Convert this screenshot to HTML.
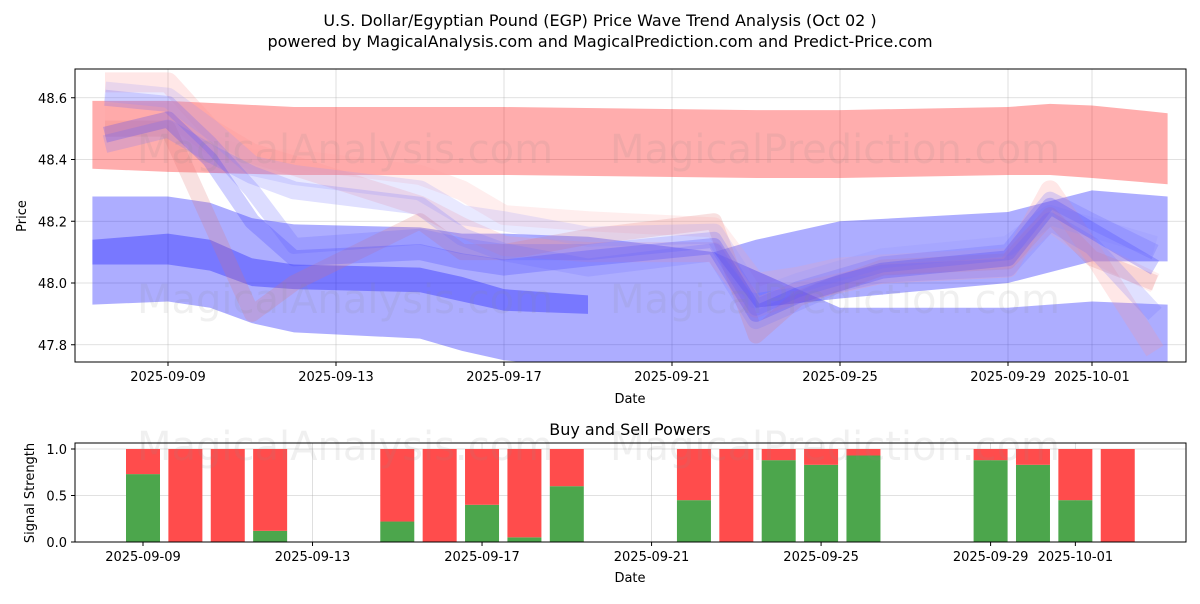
<!DOCTYPE html>
<html><head><meta charset="utf-8"><style>
body{margin:0;background:#fff;font-family:"DejaVu Sans","Liberation Sans",sans-serif}
svg text{font-family:"DejaVu Sans","Liberation Sans",sans-serif}
</style></head><body>
<svg id="chart" width="1200" height="600" xmlns="http://www.w3.org/2000/svg">
<defs>
<clipPath id="clipTop"><rect x="75" y="69" width="1111" height="293"/></clipPath>
</defs>
<rect width="1200" height="600" fill="#fff"/>
<text x="600" y="26" text-anchor="middle" font-size="16">U.S. Dollar/Egyptian Pound (EGP) Price Wave Trend Analysis (Oct 02 )</text>
<text x="600" y="47" text-anchor="middle" font-size="16">powered by MagicalAnalysis.com and MagicalPrediction.com and Predict-Price.com</text>
<g id="topGrid"></g>
<g id="topMarks" clip-path="url(#clipTop)"></g>
<g id="botGrid"></g>
<g id="botMarks"></g>
<g id="wm" fill="#888" fill-opacity="0.13" font-size="40">
<text x="345" y="163" text-anchor="middle">MagicalAnalysis.com</text>
<text x="835" y="163" text-anchor="middle">MagicalPrediction.com</text>
<text x="345" y="313" text-anchor="middle">MagicalAnalysis.com</text>
<text x="835" y="313" text-anchor="middle">MagicalPrediction.com</text>
<text x="345" y="460" text-anchor="middle">MagicalAnalysis.com</text>
<text x="835" y="460" text-anchor="middle">MagicalPrediction.com</text>
</g>
<rect x="75" y="69" width="1111" height="293" fill="none" stroke="#000" stroke-width="1"/>
<text x="630" y="403" text-anchor="middle" font-size="13">Date</text>
<text transform="translate(26,216) rotate(-90)" text-anchor="middle" font-size="13">Price</text>
<text x="630" y="435" text-anchor="middle" font-size="16">Buy and Sell Powers</text>
<rect x="75" y="443" width="1111" height="99" fill="none" stroke="#000" stroke-width="1"/>
<text x="630" y="582" text-anchor="middle" font-size="13">Date</text>
<text transform="translate(34,493) rotate(-90)" text-anchor="middle" font-size="13">Signal Strength</text>
</svg>
<script>
// days relative to 2025-09-09
const tickDays = [0,4,8,12,16,20,22];
const tickLabels = ["2025-09-09","2025-09-13","2025-09-17","2025-09-21","2025-09-25","2025-09-29","2025-10-01"];
const priceTicks = [47.8,48.0,48.2,48.4,48.6];
const signalTicks = [0,0.5,1.0];
const lineDays = [-1.5,0,1,2,3,6,7,8,10,13,14,15,16,17,20,21,22,23.5];
const blue1 = [48.48,48.53,48.4,48.2,48.08,48.1,48.07,48.05,48.08,48.12,47.9,47.96,48.0,48.04,48.08,48.25,48.17,48.05];
const blue2 = [48.6,48.58,48.45,48.3,48.12,48.15,48.12,48.1,48.1,48.14,47.92,47.98,48.02,48.06,48.1,48.27,48.2,48.1];
const blue3 = [48.45,48.5,48.42,48.35,48.3,48.25,48.15,48.1,48.05,48.1,47.88,47.94,48.0,48.03,48.05,48.2,48.12,47.9];
const blue4 = [48.62,48.6,48.5,48.38,48.35,48.3,48.22,48.2,48.15,48.16,47.95,48.0,48.04,48.08,48.12,48.22,48.18,48.12];
const red1 = [48.65,48.65,48.5,48.42,48.38,48.25,48.18,48.12,48.1,48.1,47.92,47.97,48.0,48.03,48.05,48.3,48.1,47.78];
const red2 = [48.5,48.5,48.2,47.9,48.0,48.2,48.1,48.1,48.15,48.2,47.83,47.95,48.0,48.05,48.07,48.22,48.08,48.0];
const red3 = [48.55,48.55,48.45,48.4,48.4,48.35,48.3,48.22,48.2,48.18,48.0,48.02,48.05,48.06,48.08,48.2,48.1,48.0];
const redBandDays = [-1.8,0,3,8,14,16,20,21,22,23.8];
const redBandTop = [48.59,48.59,48.57,48.57,48.56,48.56,48.57,48.58,48.575,48.55];
const redBandBot = [48.37,48.36,48.35,48.35,48.34,48.34,48.35,48.35,48.34,48.32];
const blueADays = [-1.8,0,1,2,3,6,7,8,10,13,16,20,22,23.8];
const blueATop = [48.28,48.28,48.26,48.21,48.19,48.18,48.16,48.16,48.15,48.1,47.92,47.92,47.94,47.93];
const blueABot = [47.93,47.94,47.92,47.87,47.84,47.82,47.78,47.75,47.72,47.65,47.6,47.6,47.6,47.6];
const blueBDays = [-1.8,0,1,2,3,6,7,8,10];
const blueBTop = [48.14,48.16,48.14,48.08,48.06,48.05,48.02,47.98,47.96];
const blueBBot = [48.06,48.06,48.04,47.99,47.98,47.97,47.94,47.91,47.9];
const blueDDays = [13,14,16,20,22,23.8];
const blueDTop = [48.1,48.14,48.2,48.23,48.3,48.28];
const blueDBot = [48.1,47.92,47.95,48.0,48.07,48.07];
const barDays = [0,1,2,3,6,7,8,9,10,13,14,15,16,17,20,21,22,23];
const buyVals = [0.73,0,0,0.12,0.22,0,0.4,0.05,0.6,0.45,0,0.88,0.83,0.93,0.88,0.83,0.45,0];

const NS="http://www.w3.org/2000/svg";
const X=d=>168+d*42;
const XB=d=>143+d*42.38;
const Y=v=>283-(v-48)*308.75;
const YB=v=>542-v*93;
function mk(tag,attrs,parent){const e=document.createElementNS(NS,tag);for(const k in attrs)e.setAttribute(k,attrs[k]);parent.appendChild(e);return e;}
const tg=document.getElementById('topGrid'),tm=document.getElementById('topMarks'),bg=document.getElementById('botGrid'),bm=document.getElementById('botMarks');
tickDays.forEach((d,i)=>{
 let l=mk('line',{x1:X(d),x2:X(d),y1:69,y2:362,stroke:'#b0b0b0','stroke-opacity':0.5,'stroke-width':0.8},tg);
 
 mk('line',{x1:X(d),x2:X(d),y1:362,y2:366,stroke:'#000'},tg);
 let t=mk('text',{x:X(d),y:381,'text-anchor':'middle','font-size':13},tg);t.textContent=tickLabels[i];
 
 let l2=mk('line',{x1:XB(d),x2:XB(d),y1:443,y2:542,stroke:'#b0b0b0','stroke-opacity':0.5,'stroke-width':0.8},bg);
 
 mk('line',{x1:XB(d),x2:XB(d),y1:542,y2:546,stroke:'#000'},bg);
 let t2=mk('text',{x:XB(d),y:561,'text-anchor':'middle','font-size':13},bg);t2.textContent=tickLabels[i];
 
});
priceTicks.forEach(v=>{
 let l=mk('line',{x1:75,x2:1186,y1:Y(v),y2:Y(v),stroke:'#b0b0b0','stroke-opacity':0.5,'stroke-width':0.8},tg);
 
 mk('line',{x1:71,x2:75,y1:Y(v),y2:Y(v),stroke:'#000'},tg);
 let t=mk('text',{x:67,y:Y(v)+5,'text-anchor':'end','font-size':13},tg);t.textContent=v.toFixed(1);
 
});
signalTicks.forEach(v=>{
 let l=mk('line',{x1:75,x2:1186,y1:YB(v),y2:YB(v),stroke:'#b0b0b0','stroke-opacity':0.5,'stroke-width':0.8},bg);
 
 mk('line',{x1:71,x2:75,y1:YB(v),y2:YB(v),stroke:'#000'},bg);
 let t=mk('text',{x:67,y:YB(v)+5,'text-anchor':'end','font-size':13},bg);t.textContent=v.toFixed(1);
 
});
function band(days,top,bot,fill,op,name){
 let pts=days.map((d,i)=>X(d)+','+Y(top[i])).concat(days.map((d,i)=>X(d)+','+Y(bot[i])).reverse());
 let p=mk('polygon',{points:pts.join(' '),fill:fill,'fill-opacity':op},tm);
 
}
band(redBandDays,redBandTop,redBandBot,'#ff0000',0.32,'red-band');
band(blueADays,blueATop,blueABot,'#0000ff',0.32,'blue-band-main');
band(blueBDays,blueBTop,blueBBot,'#0000ff',0.3,'blue-band-core');
band(blueDDays,blueDTop,blueDBot,'#0000ff',0.32,'blue-band-upper');
function line(vals,col,w,op,name){
 let p=mk('polyline',{points:lineDays.map((d,i)=>X(d)+','+Y(vals[i])).join(' '),fill:'none',stroke:col,'stroke-width':w,'stroke-opacity':op,'stroke-linejoin':'round'},tm);
 
}
line(red1,'#ff9090',20,0.22,'wave-red-1');
line(red2,'#e07070',16,0.22,'wave-red-2');
line(red3,'#ffa0a0',20,0.18,'wave-red-3');
line(blue4,'#9090ff',20,0.2,'wave-blue-4');
line(blue3,'#7070ff',18,0.22,'wave-blue-3');
line(blue2,'#6060ff',16,0.22,'wave-blue-2');
line(blue1,'#4040ff',16,0.25,'wave-blue-1');
barDays.forEach((d,i)=>{
 const w=34,x=XB(d)-17;
 let g=mk('rect',{x:x,y:YB(buyVals[i]),width:w,height:YB(0)-YB(buyVals[i]),fill:'#4ca64c'},bm);
 
 let r=mk('rect',{x:x,y:YB(1),width:w,height:YB(buyVals[i])-YB(1),fill:'#ff4c4c'},bm);
 
});
</script>
</body></html>
